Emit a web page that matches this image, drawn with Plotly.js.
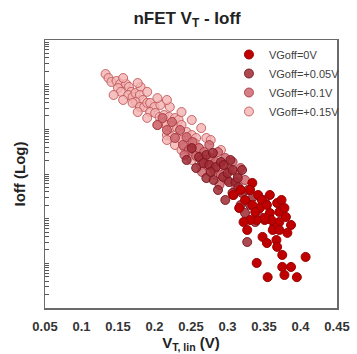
<!DOCTYPE html>
<html>
<head>
<meta charset="utf-8">
<script src="https://cdn.plot.ly/plotly-3.0.1.min.js"></script>
<style>html,body{margin:0;padding:0;background:#fff;}#chart{width:357px;height:354px;}</style>
</head>
<body>
<div id="chart"></div>
<script>
// Series names
const seriesNames = ["VGoff=+0.15V", "VGoff=+0.1V", "VGoff=+0.05V", "VGoff=0V"];

// VGoff=+0.15V
const x015 = [0.133,0.137,0.141,0.148,0.153,0.150,0.154,0.161,0.165,0.168,0.164,0.170,0.174,0.181,0.180,0.184,0.174,0.170,0.180,0.186,0.190,0.194,0.200,0.208,0.221,0.194,0.201,0.207,0.213,0.220,0.228,0.233,0.211,0.217,0.224,0.231,0.237,0.244,0.251,0.257,0.217,0.224,0.231,0.237,0.247,0.255,0.271,0.261,0.228,0.237,0.251,0.257,0.268,0.275,0.277,0.287,0.307,0.297,
  0.157,0.177,0.190,0.204,0.217,0.237,0.251,0.264,0.277,0.291,0.144,0.157,0.177,0.190,0.204,0.217,0.241,0.251,0.264,0.284];
const y015 = [1.73e-7,1.41e-7,1.15e-7,1.21e-7,1.04e-7,8.4e-8,6.9e-8,1.04e-7,8.9e-8,6.9e-8,5.87e-8,5.3e-8,6.5e-8,8.9e-8,5.87e-8,4.54e-8,4.1e-8,3.9e-8,3.17e-8,3.17e-8,3.9e-8,3.9e-8,3.17e-8,3.51e-8,3.17e-8,2.44e-8,2.32e-8,1.89e-8,2.09e-8,1.89e-8,1.79e-8,1.62e-8,1.39e-8,1.25e-8,1.13e-8,1.07e-8,1.25e-8,8.7e-9,7.46e-9,6.4e-9,7.46e-9,6.7e-9,6.4e-9,5.77e-9,4.9e-9,4.9e-9,6.4e-9,3.8e-9,4.46e-9,3.44e-9,3.1e-9,2.41e-9,2.06e-9,1.59e-9,1.86e-9,1.36e-9,3.76e-10,8.1e-10,
  1.41e-7,1.09e-7,6.9e-8,5.0e-8,4.54e-8,2.44e-8,1.62e-8,1.07e-8,5.77e-9,3.44e-9,5.87e-8,4.54e-8,2.44e-8,1.8e-8,1.25e-8,5.77e-9,4.0e-9,2.06e-9,1.59e-9,9.51e-10];

// VGoff=+0.1V
const x01 = [0.204,0.211,0.217,0.224,0.228,0.235,0.239,0.244,0.247,0.252,0.257,0.261,0.264,0.268,0.271,0.275,0.277,0.281,0.284,0.287,0.291,0.294,0.297,0.300,0.303,0.307,0.311,0.314,0.318,0.324,0.265,0.241,0.289,0.308];
const y01 = [1.25e-8,1.79e-8,9.66e-9,1.46e-8,6.4e-9,9.66e-9,4.46e-9,6.7e-9,3.44e-9,5.2e-9,2.54e-9,3.8e-9,2.06e-9,3.1e-9,1.59e-9,4.46e-9,2.28e-9,1.23e-9,1.86e-9,3.1e-9,9.51e-10,1.59e-9,2.28e-9,7.35e-10,1.23e-9,1.86e-9,5.68e-10,9.51e-10,1.36e-9,7.35e-10,1.11e-9,2.67e-9,5.68e-10,3.39e-10];

// VGoff=+0.05V
const x005 = [0.261,0.271,0.280,0.267,0.275,0.284,0.291,0.295,0.271,0.281,0.294,0.300,0.307,0.302,0.311,0.315,0.320,0.307,0.320,0.328,0.335,0.324,0.342,0.327,0.277,0.287,0.297,0.318,0.331,0.344,0.351,0.338,0.314,0.304,0.251,0.244,0.257];
const y005 = [2.41e-9,2.67e-9,2.96e-9,1.76e-9,1.59e-9,1.43e-9,1.86e-9,1.59e-9,8.1e-10,7.35e-10,8.6e-10,1.05e-9,1.23e-9,6.6e-10,6.6e-10,5.1e-10,1.23e-9,3.76e-10,3.76e-10,4.39e-10,3.06e-10,1.34e-10,1.21e-10,3.0e-11,1.11e-9,4.39e-10,2.62e-10,2.02e-10,2.02e-10,1.73e-10,2.62e-10,8.4e-11,8.1e-10,2.06e-9,3.8e-9,2.06e-9,1.36e-9];

// VGoff=0V
const x0 = [0.334,0.331,0.342,0.347,0.344,0.354,0.358,0.368,0.371,0.378,0.380,0.387,0.371,0.364,0.360,0.351,0.340,0.331,0.322,0.327,0.351,0.362,0.371,0.382,0.348,0.354,0.367,0.368,0.375,0.407,0.340,0.375,0.387,0.378,0.355,0.395,0.334,0.338,0.374,0.308,0.316,0.324,0.358,0.318];
const y0 = [6.3e-10,4.39e-10,3.39e-10,2.62e-10,1.73e-10,2.02e-10,1.34e-10,2.24e-10,1.41e-10,1.73e-10,1.09e-10,7.21e-11,8.4e-11,6.5e-11,9.33e-11,9.33e-11,9.33e-11,9.33e-11,8.4e-11,5.58e-11,1.04e-10,5.58e-11,5.58e-11,4.8e-11,3.9e-11,2.85e-11,3.33e-11,2.33e-11,1.54e-11,1.39e-11,1.02e-11,8.3e-12,8.3e-12,5.48e-12,4.9e-12,4.9e-12,2.02e-10,1.41e-10,2.62e-10,3.39e-10,1.73e-10,2.62e-10,3.39e-10,4.39e-10];

// x tick labels
const xTickVals = [0.05,0.1,0.15,0.2,0.25,0.3,0.35,0.4,0.45];
const xTickText = ["0.05","0.1","0.15","0.2","0.25","0.3","0.35","0.4","0.45"];

const FONT = "Liberation Sans, Arial, sans-serif";

function mk(x, y, name, fill, line) {
  return {
    type: "scatter", mode: "markers", x: x, y: y, name: name,
    marker: {symbol: "circle", size: 9, color: fill, line: {color: line, width: 1}}
  };
}

const data = [
  mk(x015, y015, seriesNames[0], "rgba(242,178,178,0.8)", "rgba(190,85,85,0.85)"),
  mk(x01, y01, seriesNames[1], "rgba(205,105,112,0.85)", "rgba(165,50,58,0.85)"),
  mk(x005, y005, seriesNames[2], "rgba(158,42,52,0.85)", "rgba(120,20,30,0.9)"),
  mk(x0, y0, seriesNames[3], "#c00000", "#9a0000")
];

const layout = {
  width: 357, height: 354,
  margin: {l: 45, r: 13, t: 40, b: 46},
  paper_bgcolor: "#fff", plot_bgcolor: "#fff",
  font: {family: FONT, color: "#333"},
  title: {text: "<b>nFET V<sub>T</sub> - Ioff</b>", font: {size: 17, color: "#222"},
          x: 0.524, xanchor: "center", xref: "container", y: 0.95, yanchor: "middle"},
  showlegend: true,
  legend: {x: 0.63, y: 1.0, xanchor: "left", yanchor: "top", bgcolor: "rgba(0,0,0,0)",
           traceorder: "reversed", font: {size: 11, color: "#404040"}, borderwidth: 0},
  xaxis: {
    range: [0.05, 0.45], tickvals: xTickVals, ticktext: xTickText,
    ticks: "", showgrid: false, zeroline: false,
    showline: true, mirror: true, linecolor: "#6a6a6a", linewidth: 1.5,
    tickfont: {size: 13, color: "#333", weight: "bold"}, ticklabelstandoff: 6,
    title: {text: "<b>V<sub>T, lin</sub> (V)</b>", font: {size: 15, color: "#222"}, standoff: 4}
  },
  yaxis: {
    type: "log", range: [-12, -6], dtick: "D1", showticklabels: false,
    ticks: "inside", ticklen: 4, tickcolor: "#555", tickwidth: 1,
    showgrid: false, zeroline: false,
    showline: true, mirror: true, linecolor: "#6a6a6a", linewidth: 1.5,
    title: {text: "<b>Ioff (Log)</b>", font: {size: 15, color: "#222"}, standoff: 14}
  }
};

Plotly.newPlot("chart", data, layout, {staticPlot: true, displayModeBar: false});
</script>
</body>
</html>
